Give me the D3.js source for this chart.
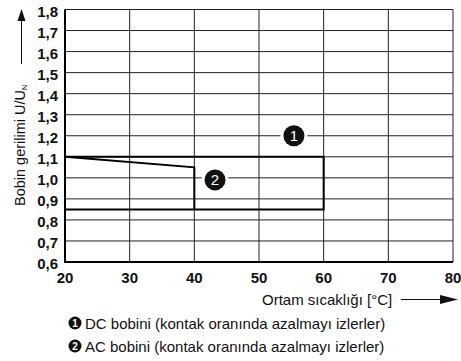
<!DOCTYPE html>
<html><head><meta charset="utf-8">
<script src="https://cdn.jsdelivr.net/npm/d3@7"></script>
<style>body{margin:0;background:#fff}svg{display:block}text{font-family:"Liberation Sans",Arial,Helvetica,sans-serif}</style>
</head><body><svg id="c" width="461" height="361"></svg>
<script>
const xTicks = [20, 30, 40, 50, 60, 70, 80];
const yTicks = [0.6, 0.7, 0.8, 0.9, 1.0, 1.1, 1.2, 1.3, 1.4, 1.5, 1.6, 1.7, 1.8];
const dcX = [20, 60, 60, 20];
const dcY = [1.1, 1.1, 0.85, 0.85];
const acX = [20, 40, 40];
const acY = [1.1, 1.05, 0.85];
const markerLabels = ["1", "2"];
const markerX = [55.4, 43.2];
const markerY = [1.2, 0.99];
const legendTexts = ["DC bobini (kontak oranında azalmayı izlerler)", "AC bobini (kontak oranında azalmayı izlerler)"];
const yLabel = "Bobin gerilimi U/U";
const yLabelSub = "N";
const xLabel = "Ortam sıcaklığı [°C]";

const svg = d3.select("#c");
const x = d3.scaleLinear().domain([20, 80]).range([65, 453]);
const y = d3.scaleLinear().domain([0.6, 1.8]).range([262, 9.5]);
const fmt = v => d3.format(".1f")(v).replace(".", ",");

// grid
const g = svg.append("g");
g.selectAll("line.v").data(xTicks).join("line")
  .attr("x1", d => x(d)).attr("x2", d => x(d)).attr("y1", y(1.8)).attr("y2", y(0.6))
  .attr("stroke", "#222").attr("stroke-width", 1);
g.selectAll("line.h").data(yTicks).join("line")
  .attr("x1", x(20)).attr("x2", x(80)).attr("y1", d => y(d)).attr("y2", d => y(d))
  .attr("stroke", "#222").attr("stroke-width", 1);
// frame left & bottom thicker
svg.append("line").attr("x1", x(20)).attr("x2", x(20)).attr("y1", y(1.8)).attr("y2", y(0.6) + 1)
  .attr("stroke", "#000").attr("stroke-width", 2);
svg.append("line").attr("x1", x(20) - 1).attr("x2", x(80)).attr("y1", y(0.6)).attr("y2", y(0.6))
  .attr("stroke", "#000").attr("stroke-width", 2);

// axis tick labels
svg.selectAll("text.xt").data(xTicks).join("text")
  .attr("x", d => x(d)).attr("y", 283).attr("text-anchor", "middle")
  .attr("font-size", 15).attr("font-weight", "bold").attr("fill", "#111").text(d => d);
svg.selectAll("text.yt").data(yTicks).join("text")
  .attr("x", 58).attr("y", d => y(d) + 7).attr("text-anchor", "end")
  .attr("font-size", 15).attr("font-weight", "bold").attr("fill", "#111").text(d => fmt(d));

// data lines
const line = d3.line().x(d => x(d[0])).y(d => y(d[1]));
svg.append("path").datum(dcX.map((v, i) => [v, dcY[i]])).attr("d", line)
  .attr("fill", "none").attr("stroke", "#000").attr("stroke-width", 2);
svg.append("path").datum(acX.map((v, i) => [v, acY[i]])).attr("d", line)
  .attr("fill", "none").attr("stroke", "#000").attr("stroke-width", 2);

// markers
const mk = svg.selectAll("g.mk").data(markerLabels).join("g")
  .attr("transform", (d, i) => `translate(${x(markerX[i])},${y(markerY[i])})`);
mk.append("circle").attr("r", 13.5).attr("fill", "#fff");
mk.append("circle").attr("r", 10.5).attr("fill", "#111");
mk.append("text").attr("text-anchor", "middle").attr("y", 5.5).attr("font-size", 15)
  .attr("fill", "#fff").text(d => d);

// y label
const yl = svg.append("text").attr("transform", "translate(25,206) rotate(-90)")
  .attr("font-size", 14.5).attr("fill", "#111");
yl.append("tspan").text(yLabel);
yl.append("tspan").attr("font-size", 7).attr("dy", 2).text(yLabelSub);
svg.append("line").attr("x1", 21.5).attr("x2", 21.5).attr("y1", 64).attr("y2", 18)
  .attr("stroke", "#111").attr("stroke-width", 1);
svg.append("path").attr("d", "M21.5,9 L25.5,21 L17.5,21 Z").attr("fill", "#111");

// x label
svg.append("text").attr("x", 262).attr("y", 304.5).attr("font-size", 15).attr("fill", "#111").text(xLabel);
svg.append("line").attr("x1", 401).attr("x2", 442).attr("y1", 299.5).attr("y2", 299.5)
  .attr("stroke", "#111").attr("stroke-width", 1);
svg.append("path").attr("d", "M458,299.5 L440,295 L440,304 Z").attr("fill", "#111");

// legend
const lg = svg.selectAll("g.lg").data(legendTexts).join("g")
  .attr("transform", (d, i) => `translate(0,${323 + i * 23})`);
lg.append("circle").attr("cx", 75).attr("r", 6.5).attr("fill", "#111");
lg.append("text").attr("x", 75).attr("y", 3.6).attr("text-anchor", "middle")
  .attr("font-size", 10).attr("font-weight", "bold").attr("fill", "#fff").text((d, i) => markerLabels[i]);
lg.append("text").attr("x", 85).attr("y", 5.5).attr("font-size", 15).attr("fill", "#111").text(d => d);
</script></body></html>
